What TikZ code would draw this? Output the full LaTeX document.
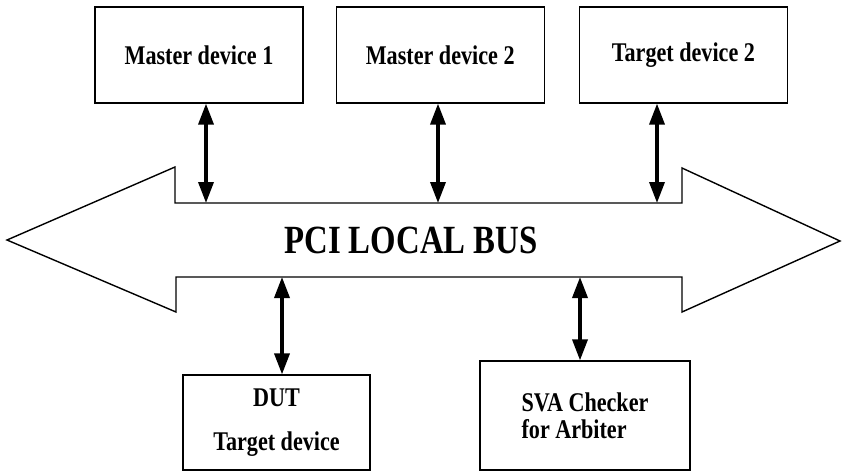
\documentclass[tikz,border=0pt]{standalone}
\usepackage{fontspec}
\newfontfamily\lblfont[FakeStretch=0.82]{Liberation Serif}
\usetikzlibrary{arrows.meta,positioning}

\begin{document}
\begin{tikzpicture}[
  x=1pt, y=-1pt,
  node distance=10mm and 32pt,
  devbox/.style={rectangle, draw=black, line width=1.2pt, minimum width=208pt, minimum height=96pt, inner sep=0pt, align=center, font=\lblfont\bfseries\fontsize{27}{27}\selectfont},
  busline/.style={draw=black, line width=1.4pt, line join=miter},
  buslabel/.style={font=\lblfont\bfseries\fontsize{40}{44}\selectfont, inner sep=0pt},
  link/.style={{Triangle[length=21pt,width=15pt]}-{Triangle[length=21pt,width=15pt]}, line width=3.5pt, draw=black}
]
\useasboundingbox (0,0) rectangle (843,472);

% the bus outline
\draw[busline] (175,203) -- (175,167) -- (7,240) -- (176,312) -- (176,277) -- (682,277)
  -- (682,312) -- (840,241) -- (682,168) -- (682,203) -- cycle;
\node[buslabel] (bus) at (411,240) {PCI LOCAL BUS};

\coordinate (tap1) at (206,203);
\coordinate (tap2) at (438,203);
\coordinate (tap3) at (657,203);
\coordinate (tap4) at (282,277);
\coordinate (tap5) at (580,277);

\node[devbox] (mdev1) at (199,55) {Master device 1};
\node[devbox, right=of mdev1] (mdev2) {Master device 2};
\node[devbox, right=34pt of mdev2] (tdev2) {Target device 2};
\node[devbox, minimum width=187pt, minimum height=95pt] (dut) at (276.5,422.5) {DUT\\[17pt]Target device};
\node[devbox, minimum width=210pt, minimum height=109pt, align=left] (sva) at (585,415.5) {SVA Checker\\for Arbiter};

\draw[link] (mdev1.south -| tap1) -- (tap1);
\draw[link] (mdev2.south -| tap2) -- (tap2);
\draw[link] (tdev2.south -| tap3) -- (tap3);
\draw[link] (tap4) -- (dut.north -| tap4);
\draw[link] (tap5) -- (sva.north -| tap5);
\end{tikzpicture}
\end{document}
